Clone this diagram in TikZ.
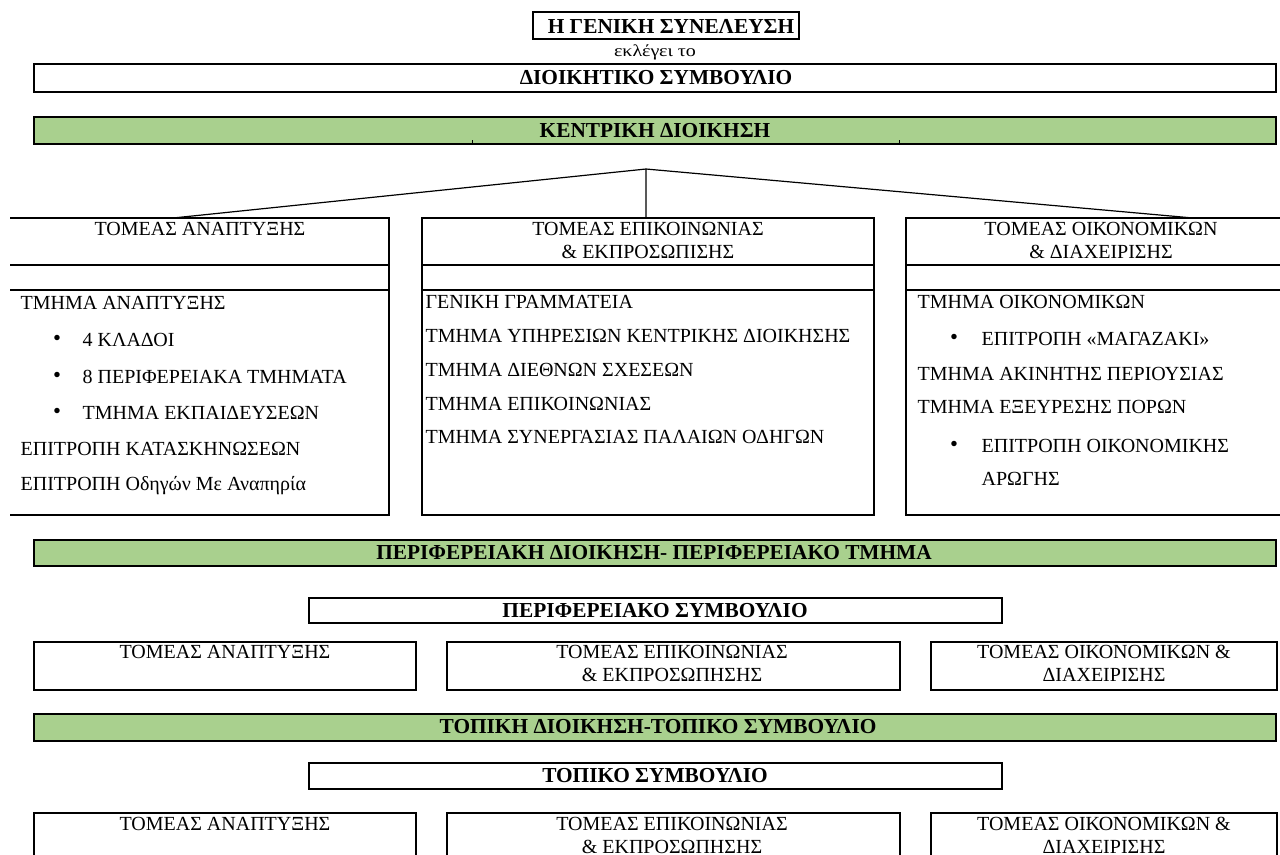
\documentclass[tikz,border=0pt]{standalone}
\usepackage{fontspec}
\setmainfont{Liberation Serif}
\newfontfamily\widefont[FakeStretch=1.2]{Liberation Serif}
\definecolor{grn}{RGB}{169,208,142}
\begin{document}
\begin{tikzpicture}[x=0.75pt,y=-0.75pt,line width=0.9pt,
  txt/.style={font=\fontsize{15}{17.25}\selectfont,inner sep=0pt},
  ttl/.style={font=\fontsize{16}{18}\selectfont\bfseries,inner sep=0pt},
  itm/.style={txt,anchor=west},
  bul/.style={font=\fontsize{17}{18}\selectfont,inner sep=0pt,anchor=center},
  gbar/.style={draw,fill=grn},
  frame/.style={draw}]
\useasboundingbox (0,0) rectangle (1280,854);
\clip (0,0) rectangle (1280,854);
% top
\draw[frame] (533,12) rectangle (799,39);
\node[ttl] (gs) at (671,26) {Η ΓΕΝΙΚΗ ΣΥΝΕΛΕΥΣΗ};
\node[font=\fontsize{12.5}{14}\widefont,inner sep=0pt] (ekl) at (655,52) {εκλέγει το};
\draw[frame] (34,64) rectangle (1276,92);
\node[ttl] (ds) at (656,78) {ΔΙΟΙΚΗΤΙΚΟ ΣΥΜΒΟΥΛΙΟ};
\draw[gbar] (34,117) rectangle (1276,144);
\node[ttl] (kd) at (655,131) {ΚΕΝΤΡΙΚΗ ΔΙΟΙΚΗΣΗ};
\draw[line width=0.6pt] (472,144) -- (472,140) (899,144) -- (899,140);
% tree
\coordinate (apex) at (646,169);
\coordinate (tA) at (173,218);
\coordinate (tB) at (646,218);
\coordinate (tC) at (1193,218);
\draw (apex) -- (tA) (apex) -- (tB) (apex) -- (tC);
% big boxes
\draw[frame] (10,218) -- (389,218) -- (389,515) -- (10,515);
\draw (10,265) -- (389,265) (10,290) -- (389,290);
\draw[frame] (422,218) rectangle (874,515);
\draw (422,265) -- (874,265) (422,290) -- (874,290);
\draw (1290,218) -- (906,218) -- (906,515) -- (1290,515);
\draw (906,265) -- (1290,265) (906,290) -- (1290,290);
\node[txt] (hA) at (200,229) {ΤΟΜΕΑΣ ΑΝΑΠΤΥΞΗΣ};
\node[txt,align=center] (hB) at (648,240.5) {ΤΟΜΕΑΣ ΕΠΙΚΟΙΝΩΝΙΑΣ\\\& ΕΚΠΡΟΣΩΠΙΣΗΣ};
\node[txt,align=center] (hC) at (1101,240.5) {ΤΟΜΕΑΣ ΟΙΚΟΝΟΜΙΚΩΝ\\\& ΔΙΑΧΕΙΡΙΣΗΣ};
% left list
\node[itm] (a1) at (20,303) {ΤΜΗΜΑ ΑΝΑΠΤΥΞΗΣ};
\node[bul] (b2) at (57,340) {•};
\node[itm] (a2) at (82,340) {4 ΚΛΑΔΟΙ};
\node[bul] (b3) at (57,377) {•};
\node[itm] (a3) at (82,377) {8 ΠΕΡΙΦΕΡΕΙΑΚΑ ΤΜΗΜΑΤΑ};
\node[bul] (b4) at (57,413) {•};
\node[itm] (a4) at (82,413) {ΤΜΗΜΑ ΕΚΠΑΙΔΕΥΣΕΩΝ};
\node[itm] (a5) at (20,449) {ΕΠΙΤΡΟΠΗ ΚΑΤΑΣΚΗΝΩΣΕΩΝ};
\node[itm] (a6) at (20,486) {ΕΠΙΤΡΟΠΗ Οδηγών Με Αναπηρία};
% middle list
\node[itm] (m1) at (425,302) {ΓΕΝΙΚΗ ΓΡΑΜΜΑΤΕΙΑ};
\node[itm] (m2) at (425,336) {ΤΜΗΜΑ ΥΠΗΡΕΣΙΩΝ ΚΕΝΤΡΙΚΗΣ ΔΙΟΙΚΗΣΗΣ};
\node[itm] (m3) at (425,370) {ΤΜΗΜΑ ΔΙΕΘΝΩΝ ΣΧΕΣΕΩΝ};
\node[itm] (m4) at (425,404) {ΤΜΗΜΑ ΕΠΙΚΟΙΝΩΝΙΑΣ};
\node[itm] (m5) at (425,437) {ΤΜΗΜΑ ΣΥΝΕΡΓΑΣΙΑΣ ΠΑΛΑΙΩΝ ΟΔΗΓΩΝ};
% right list
\node[itm] (r1) at (917,302) {ΤΜΗΜΑ ΟΙΚΟΝΟΜΙΚΩΝ};
\node[bul] (rb2) at (954,339) {•};
\node[itm] (r2) at (981,339) {ΕΠΙΤΡΟΠΗ «ΜΑΓΑΖΑΚΙ»};
\node[itm] (r3) at (917,374) {ΤΜΗΜΑ ΑΚΙΝΗΤΗΣ ΠΕΡΙΟΥΣΙΑΣ};
\node[itm] (r4) at (917,407) {ΤΜΗΜΑ ΕΞΕΥΡΕΣΗΣ ΠΟΡΩΝ};
\node[bul] (rb5) at (954,446) {•};
\node[itm] (r5) at (981,446) {ΕΠΙΤΡΟΠΗ ΟΙΚΟΝΟΜΙΚΗΣ};
\node[itm] (r6) at (981,479) {ΑΡΩΓΗΣ};
% regional
\draw[gbar] (34,540) rectangle (1276,566);
\node[ttl] (pd) at (654,553) {ΠΕΡΙΦΕΡΕΙΑΚΗ ΔΙΟΙΚΗΣΗ- ΠΕΡΙΦΕΡΕΙΑΚΟ ΤΜΗΜΑ};
\draw[frame] (309,598) rectangle (1002,623);
\node[ttl] (ps) at (655,611) {ΠΕΡΙΦΕΡΕΙΑΚΟ ΣΥΜΒΟΥΛΙΟ};
\draw[frame] (34,642) rectangle (416,690);
\draw[frame] (447,642) rectangle (900,690);
\draw[frame] (931,642) rectangle (1277,690);
\node[txt] (pA) at (225,652) {ΤΟΜΕΑΣ ΑΝΑΠΤΥΞΗΣ};
\node[txt,align=center] (pB) at (672,663) {ΤΟΜΕΑΣ ΕΠΙΚΟΙΝΩΝΙΑΣ\\\& ΕΚΠΡΟΣΩΠΗΣΗΣ};
\node[txt,align=center] (pC) at (1104,663) {ΤΟΜΕΑΣ ΟΙΚΟΝΟΜΙΚΩΝ \&\\ΔΙΑΧΕΙΡΙΣΗΣ};
% local
\draw[gbar] (34,714) rectangle (1276,741);
\node[ttl] (td) at (658,727) {ΤΟΠΙΚΗ ΔΙΟΙΚΗΣΗ-ΤΟΠΙΚΟ ΣΥΜΒΟΥΛΙΟ};
\draw[frame] (309,763) rectangle (1002,789);
\node[ttl] (ts) at (655,776) {ΤΟΠΙΚΟ ΣΥΜΒΟΥΛΙΟ};
\draw[frame] (34,813) rectangle (416,880);
\draw[frame] (447,813) rectangle (900,880);
\draw[frame] (931,813) rectangle (1277,880);
\node[txt] (tA2) at (225,824) {ΤΟΜΕΑΣ ΑΝΑΠΤΥΞΗΣ};
\node[txt,align=center] (tB2) at (672,835) {ΤΟΜΕΑΣ ΕΠΙΚΟΙΝΩΝΙΑΣ\\\& ΕΚΠΡΟΣΩΠΗΣΗΣ};
\node[txt,align=center] (tC2) at (1104,835) {ΤΟΜΕΑΣ ΟΙΚΟΝΟΜΙΚΩΝ \&\\ΔΙΑΧΕΙΡΙΣΗΣ};
\end{tikzpicture}
\end{document}
